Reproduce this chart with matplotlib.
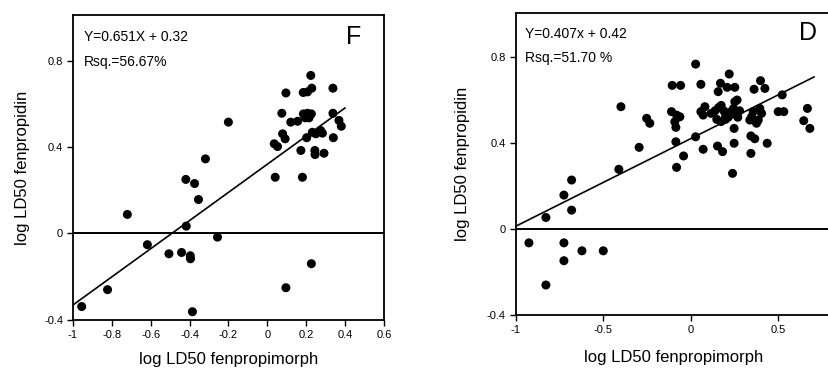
import matplotlib
matplotlib.use("Agg")
import matplotlib.pyplot as plt
import numpy as np

# panel F: log LD50 fenpropimorph (x) vs fenpropidin (y)
f_x = [-0.955, -0.822, -0.720, -0.617, -0.506, -0.441, -0.419, -0.417, -0.396, -0.395,
       -0.374, -0.385, -0.354, -0.318, -0.256, -0.200, 0.041, 0.036, 0.053, 0.075,
       0.079, 0.092, 0.096, 0.096, 0.121, 0.156, 0.173, 0.181, 0.186, 0.207,
       0.227, 0.195, 0.215, 0.185, 0.207, 0.224, 0.229, 0.227, 0.203, 0.232,
       0.250, 0.275, 0.284, 0.245, 0.246, 0.292, 0.338, 0.338, 0.340, 0.369, 0.381]
f_y = [-0.338, -0.260, 0.088, -0.052, -0.094, -0.088, 0.250, 0.034, -0.103, -0.117,
       0.231, -0.362, 0.157, 0.345, -0.017, 0.515, 0.260, 0.415, 0.402, 0.556,
       0.461, 0.438, 0.650, -0.251, 0.515, 0.519, 0.384, 0.260, 0.553, 0.556,
       0.553, 0.535, 0.535, 0.652, 0.655, 0.731, 0.672, -0.140, 0.443, 0.468,
       0.461, 0.476, 0.464, 0.384, 0.365, 0.371, 0.672, 0.556, 0.443, 0.523, 0.496]

# panel D
d_x = [-0.924, -0.827, -0.827, -0.724, -0.724, -0.724, -0.680, -0.680, -0.621, -0.499,
       -0.410, -0.398, -0.294, -0.251, -0.233, -0.105, -0.057, -0.109, -0.080, -0.061,
       -0.090, -0.084, -0.084, -0.080, -0.040, 0.029, 0.029, 0.059, 0.059, 0.082,
       0.072, 0.072, 0.117, 0.140, 0.160, 0.175, 0.190, 0.200, 0.215, 0.230,
       0.245, 0.260, 0.270, 0.280, 0.150, 0.175, 0.200, 0.154, 0.183, 0.221,
       0.171, 0.209, 0.253, 0.158, 0.266, 0.253, 0.249, 0.249, 0.240, 0.339,
       0.349, 0.358, 0.377, 0.396, 0.406, 0.387, 0.345, 0.367, 0.345, 0.363,
       0.400, 0.425, 0.438, 0.524, 0.501, 0.533, 0.668, 0.647, 0.682]
d_y = [-0.064, 0.054, -0.260, 0.158, -0.064, -0.147, 0.228, 0.088, -0.101, -0.101,
       0.278, 0.569, 0.380, 0.515, 0.492, 0.668, 0.668, 0.546, 0.530, 0.522,
       0.499, 0.473, 0.406, 0.287, 0.340, 0.767, 0.429, 0.673, 0.546, 0.569,
       0.530, 0.371, 0.538, 0.550, 0.565, 0.575, 0.550, 0.530, 0.520, 0.545,
       0.560, 0.535, 0.520, 0.550, 0.510, 0.500, 0.510, 0.386, 0.360, 0.721,
       0.678, 0.659, 0.659, 0.639, 0.600, 0.592, 0.468, 0.399, 0.259, 0.507,
       0.522, 0.546, 0.492, 0.561, 0.538, 0.507, 0.433, 0.420, 0.352, 0.650,
       0.690, 0.654, 0.399, 0.624, 0.546, 0.546, 0.561, 0.504, 0.468]

f_fit = (0.651, 0.32)
d_fit = (0.407, 0.42)
y_ticks = [-0.4, 0, 0.4, 0.8]
y_labels = ["-0.4", "0", "0.4", "0.8"]
f_xticks = [-1, -0.8, -0.6, -0.4, -0.2, 0, 0.2, 0.4, 0.6]
f_xlabels = ["-1", "-0.8", "-0.6", "-0.4", "-0.2", "0", "0.2", "0.4", "0.6"]
d_xticks = [-1, -0.5, 0, 0.5]
d_xlabels = ["-1", "-0.5", "0", "0.5"]

NARROW = ["Liberation Sans Narrow", "Liberation Sans", "DejaVu Sans"]
REGULAR = ["Liberation Sans", "DejaVu Sans"]

fig = plt.figure(figsize=(8.29, 3.69), dpi=100)
ax_f = fig.add_axes([0.088, 0.133, 0.375, 0.826])
ax_d = fig.add_axes([0.622, 0.146, 0.422, 0.819])


def style_axes(ax, xticks, xlabels, ylim):
    ax.set_ylim(*ylim)
    ax.set_yticks(y_ticks)
    ax.set_yticklabels(y_labels, family=NARROW, fontsize=8)
    ax.set_xticks(xticks)
    ax.set_xticklabels(xlabels, family=NARROW, fontsize=8)
    ax.tick_params(direction="out", length=4, width=1, pad=3)
    for sp in ax.spines.values():
        sp.set_linewidth(1.3)


def draw_panel(ax, xs, ys, fit, x_end, eq, rsq, letter, letter_x):
    ax.axhline(0, color="black", lw=1.4, zorder=1)
    lx = np.array([-1, x_end])
    ax.plot(lx, fit[0] * lx + fit[1], color="black", lw=1.2, zorder=2)
    ax.scatter(xs, ys, s=42, color="black", edgecolors="none", zorder=3)
    ax.text(-0.945, 0.908, eq, family=NARROW, fontsize=10, va="center", ha="left")
    ax.text(-0.945, 0.795, rsq, family=NARROW, fontsize=10, va="center", ha="left")
    ax.text(letter_x, 0.91, letter, family=REGULAR, fontsize=18, va="center", ha="center")


draw_panel(ax_f, f_x, f_y, f_fit, 0.40, "Y=0.651X + 0.32", "Rsq.=56.67%", "F", 0.446)
ax_f.set_xlim(-1, 0.6)
style_axes(ax_f, f_xticks, f_xlabels, (-0.4, 1.01))

draw_panel(ax_d, d_x, d_y, d_fit, 0.706, "Y=0.407x + 0.42", "Rsq.=51.70 %", "D", 0.672)
ax_d.set_xlim(-1, 1)
style_axes(ax_d, d_xticks, d_xlabels, (-0.4, 1.005))

fig.text(0.276, 0.025, "log LD50 fenpropimorph", family=REGULAR, fontsize=12, ha="center", va="center")
fig.text(0.027, 0.546, "log LD50 fenpropidin", family=REGULAR, fontsize=12, ha="center", va="center", rotation=90)
fig.text(0.812, 0.03, "log LD50 fenpropimorph", family=REGULAR, fontsize=12, ha="center", va="center")
fig.text(0.558, 0.556, "log LD50 fenpropidin", family=REGULAR, fontsize=12, ha="center", va="center", rotation=90)

fig.savefig("out.png", dpi=100)
